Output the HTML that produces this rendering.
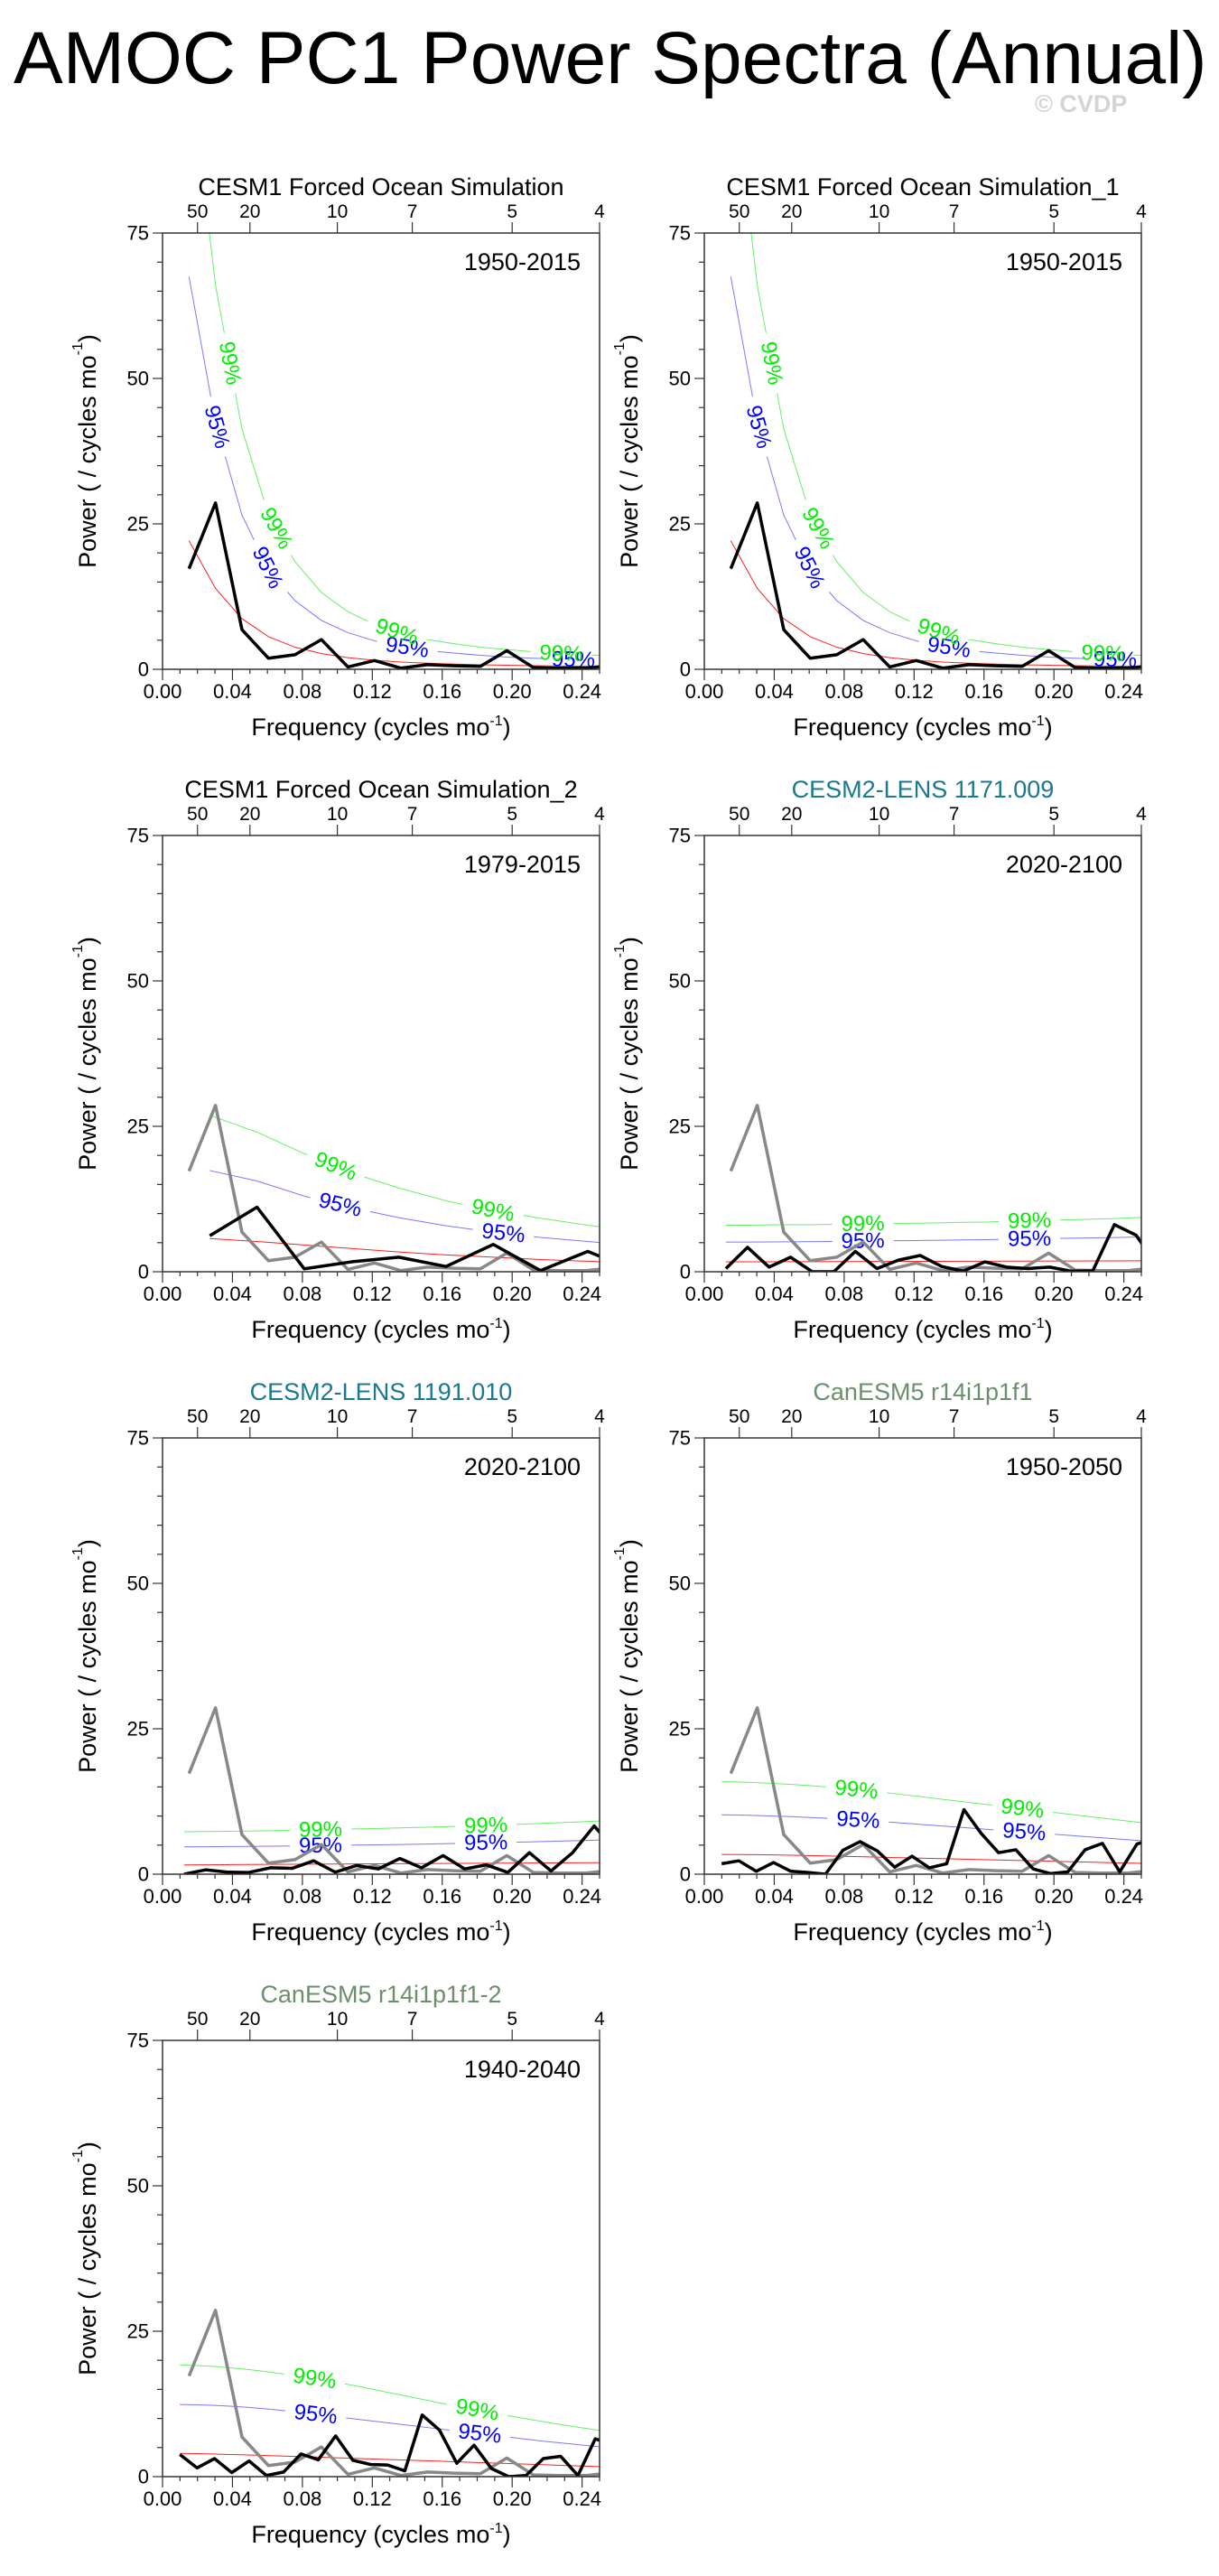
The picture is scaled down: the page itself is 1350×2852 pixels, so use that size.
<!DOCTYPE html>
<html><head><meta charset="utf-8">
<style>
html,body{margin:0;padding:0;background:#fff;}
svg{display:block;font-family:"Liberation Sans",Arial,sans-serif;}
</style></head>
<body>
<svg id="chart" xmlns="http://www.w3.org/2000/svg" width="1350" height="2852" viewBox="0 0 1350 2852">
<rect x="0" y="0" width="1350" height="2852" fill="#fff"/>
<text x="15" y="92" font-size="82" fill="#000">AMOC PC1 Power Spectra (Annual)</text>
<text x="1146" y="124" font-size="27" font-weight="bold" fill="#d4d4d4">© CVDP</text>
<defs id="defs"></defs>
</svg>
<script>
// ---- data ----
const refBlack = [17.3,28.6,6.8,1.9,2.5,5.1,0.4,1.5,0.2,0.8,0.6,0.5,3.2,0.3,0.2,0.2,0.7];
const refRed   = [22.1,13.9,8.7,5.6,3.8,2.7,2.0,1.55,1.25,1.05,0.9,0.78,0.7,0.62,0.56,0.52,0.48];
const refBlue  = [67.5,42.4,26.5,17.1,11.8,8.4,6.3,4.9,3.9,3.2,2.8,2.4,2.1,1.9,1.7,1.6,1.5];
const refGreen = [105,66,41.3,26.6,18.5,13.2,9.9,7.7,6.2,5.1,4.4,3.8,3.4,3.0,2.7,2.5,2.3];

const p3Black = [6.2,11.1,0.5,1.7,2.5,0.9,4.7,0.2,3.5,0.2];
const p3Red   = [5.7,5.2,4.6,4.0,3.4,2.9,2.5,2.1,1.8,1.5];
const p3Green = [26.9,24.0,20.3,17.0,14.4,12.2,10.5,9.2,8.0,7.0];
const p3Blue  = [17.4,15.6,13.0,11.0,9.3,7.9,6.8,5.9,5.2,4.5];

const p4Black = [0.55,4.2,0.8,2.5,0,0,3.5,0.55,2.0,2.8,0.9,0.1,1.7,0.8,0.55,0.8,0.1,0.15,8.1,6.3,1.0];
const p4Red   = [1.70,1.70,1.71,1.72,1.73,1.74,1.75,1.76,1.77,1.78,1.79,1.80,1.81,1.82,1.83,1.84,1.85,1.86,1.87,1.88,1.89];
const p4Green = [8.0,8.0,8.05,8.1,8.1,8.15,8.2,8.25,8.3,8.35,8.4,8.5,8.55,8.65,8.75,8.85,8.95,9.05,9.15,9.3,9.45];
const p4Blue  = [5.1,5.1,5.12,5.15,5.18,5.2,5.25,5.3,5.33,5.37,5.42,5.47,5.52,5.58,5.64,5.7,5.76,5.82,5.88,5.95,6.02];

const p5Black = [0,0.75,0.35,0.3,1.1,1.0,2.3,0.35,1.5,0.9,2.7,1.1,3.2,0.9,1.6,0.3,3.7,0.55,3.7,8.3,4.0];
const p5Red   = [1.6,1.62,1.64,1.66,1.68,1.7,1.72,1.74,1.76,1.78,1.8,1.82,1.84,1.86,1.88,1.9,1.92,1.94,1.96,1.98,2.0];
const p5Green = [7.3,7.33,7.37,7.42,7.48,7.55,7.62,7.7,7.78,7.86,7.95,8.05,8.15,8.25,8.35,8.5,8.65,8.8,8.95,9.1,9.3];
const p5Blue  = [4.7,4.72,4.75,4.78,4.82,4.86,4.9,4.95,5.0,5.05,5.1,5.17,5.24,5.31,5.39,5.47,5.56,5.65,5.75,5.85,5.95];

const p6Black = [1.8,2.3,0.5,2.0,0.5,0.3,0,4.1,5.6,4.0,1.2,3.1,1.1,1.8,11.1,7.0,3.7,4.2,0.9,0.1,0.4,4.2,5.3,0.4,5.2,6.0];
const p6Red   = [3.4,3.38,3.35,3.31,3.26,3.2,3.14,3.07,3.0,2.93,2.86,2.79,2.72,2.65,2.58,2.51,2.44,2.37,2.3,2.23,2.16,2.09,2.02,1.95,1.88,1.82];
const p6Green = [15.9,15.85,15.75,15.6,15.45,15.25,15.0,14.75,14.45,14.15,13.85,13.5,13.15,12.8,12.45,12.1,11.75,11.4,11.05,10.7,10.35,10.0,9.65,9.3,8.95,8.6];
const p6Blue  = [10.2,10.17,10.1,10.0,9.9,9.77,9.62,9.45,9.27,9.08,8.88,8.67,8.45,8.23,8.01,7.79,7.57,7.35,7.13,6.91,6.69,6.47,6.25,6.03,5.81,5.6];

const p7Black = [3.8,1.5,3.1,0.7,2.7,0.2,0.8,3.9,2.9,7.0,2.8,2.1,2.0,1.0,10.6,8.0,2.3,5.4,1.4,0,0.2,3.1,3.5,0.2,6.5,5.5];
const p7Red   = [4.0,3.95,3.88,3.8,3.72,3.63,3.54,3.45,3.35,3.25,3.15,3.05,2.95,2.85,2.75,2.65,2.55,2.45,2.35,2.25,2.15,2.05,1.95,1.85,1.75,1.65];
const p7Green = [19.2,19.1,18.95,18.7,18.4,18.05,17.65,17.2,16.75,16.25,15.7,15.1,14.5,13.9,13.3,12.7,12.1,11.55,11.0,10.45,9.95,9.45,8.95,8.5,8.05,7.65];
const p7Blue  = [12.4,12.35,12.25,12.1,11.9,11.65,11.35,11.0,10.65,10.3,9.95,9.6,9.25,8.9,8.55,8.2,7.85,7.5,7.15,6.8,6.45,6.1,5.8,5.5,5.2,4.95];

const recordYears = [66,66,37,81,81,101,101];
const panelTitles = ["CESM1 Forced Ocean Simulation","CESM1 Forced Ocean Simulation_1","CESM1 Forced Ocean Simulation_2","CESM2-LENS 1171.009","CESM2-LENS 1191.010","CanESM5 r14i1p1f1","CanESM5 r14i1p1f1-2"];
const periodLabels = ["1950-2015","1950-2015","1979-2015","2020-2100","2020-2100","1950-2050","1940-2040"];
const yTicks = [0,25,50,75];
const xTicks = [0,0.04,0.08,0.12,0.16,0.20,0.24];
const xTickLabels = ["0.00","0.04","0.08","0.12","0.16","0.20","0.24"];
const topPeriods = [50,20,10,7,5,4];
const label99Freq = [[0.0385,0.065,0.134,0.228],[0.0385,0.065,0.134,0.228],[0.099,0.189],[0.0907,0.186],[0.0904,0.185],[0.087,0.182],[0.087,0.18]];
const label95Freq = [[0.031,0.06,0.14,0.235],[0.031,0.06,0.14,0.235],[0.1016,0.195],[0.0907,0.186],[0.0904,0.185],[0.088,0.183],[0.0876,0.1815]];

const panels = [
 {black:refBlack,red:refRed,green:refGreen,blue:refBlue,gray:null,titleColor:"#000"},
 {black:refBlack,red:refRed,green:refGreen,blue:refBlue,gray:null,titleColor:"#000"},
 {black:p3Black,red:p3Red,green:p3Green,blue:p3Blue,gray:refBlack,titleColor:"#000"},
 {black:p4Black,red:p4Red,green:p4Green,blue:p4Blue,gray:refBlack,titleColor:"#1a7890"},
 {black:p5Black,red:p5Red,green:p5Green,blue:p5Blue,gray:refBlack,titleColor:"#1a7890"},
 {black:p6Black,red:p6Red,green:p6Green,blue:p6Blue,gray:refBlack,titleColor:"#6b8f6b"},
 {black:p7Black,red:p7Red,green:p7Green,blue:p7Blue,gray:refBlack,titleColor:"#6b8f6b"}
];
const colX = [180,780], rowY = [258,925,1592,2259], W = 484, H = 483;
const XMAX = 0.25, YMAX = 75;

const NS = "http://www.w3.org/2000/svg";
const svg = document.getElementById("chart");
const defs = document.getElementById("defs");
function mk(tag, attrs, parent){
  const e = document.createElementNS(NS, tag);
  for (const k in attrs) e.setAttribute(k, attrs[k]);
  (parent||svg).appendChild(e);
  return e;
}

panels.forEach((p, i) => {
  const x0 = colX[i%2], y0 = rowY[Math.floor(i/2)];
  const N = recordYears[i];
  const xs = f => x0 + f / XMAX * W;
  const ys = v => y0 + H - v / YMAX * H;
  const g = mk("g", {});
  
  

  const cp = mk("clipPath", {id:"clip"+i}, defs);
  mk("rect", {x:x0, y:y0, width:W, height:H}, cp);

  const pts = (arr, n) => arr.map((v,k) => [xs((k+1)/n), ys(v)]);
  const pathD = P => P.map((q,j)=>(j?"L":"M")+q[0].toFixed(2)+","+q[1].toFixed(2)).join("");

  function curveAngle(P, f){
    const x = xs(f);
    for (let j=0;j<P.length-1;j++){
      if (x>=P[j][0] && x<=P[j+1][0]){
        const t=(x-P[j][0])/(P[j+1][0]-P[j][0]);
        const y=P[j][1]+t*(P[j+1][1]-P[j][1]);
        const ang=Math.atan2(P[j+1][1]-P[j][1],P[j+1][0]-P[j][0])*180/Math.PI;
        return [x,y,ang];
      }
    }
    return [x, P[P.length-1][1], 0];
  }

  function confCurve(arr, color, textColor, label, freqs, name){
    const P = pts(arr, N);
    const mask = mk("mask", {id:"mask"+name+i, maskUnits:"userSpaceOnUse", x:0, y:0, width:1350, height:2852}, defs);
    mk("rect", {x:0,y:0,width:1350,height:2852,fill:"#fff"}, mask);
    const lg = mk("g", {"clip-path":"url(#clip"+i+")"}, g);
    const path = mk("path", {d:pathD(P), fill:"none", stroke:color, "stroke-width":1, mask:"url(#mask"+name+i+")"}, lg);
    
    
    freqs.forEach(f => {
      const [x,y,a] = curveAngle(P, f);
      if (y < y0) return;
      mk("rect", {x:x-34, y:y-14, width:68, height:28, fill:"#000", transform:`rotate(${a.toFixed(1)} ${x.toFixed(1)} ${y.toFixed(1)})`}, mask);
      const t = mk("text", {x:x, y:y, "font-size":24, fill:textColor, "text-anchor":"middle", "dominant-baseline":"central", transform:`rotate(${a.toFixed(1)} ${x.toFixed(1)} ${y.toFixed(1)})`}, g);
      
      
      t.textContent = label;
    });
  }

  const dg = mk("g", {"clip-path":"url(#clip"+i+")"}, g);
  const red = mk("path", {d:pathD(pts(p.red, N)), fill:"none", stroke:"#ff2020", "stroke-width":1}, dg);
  
  
  confCurve(p.blue, "#7878ff", "#0000ff", "95%", label95Freq[i], "blue-95");
  confCurve(p.green, "#66f066", "#00ee00", "99%", label99Freq[i], "green-99");
  const dg2 = mk("g", {"clip-path":"url(#clip"+i+")"}, g);
  if (p.gray){
    const gr = mk("path", {d:pathD(pts(p.gray, 66)), fill:"none", stroke:"#888", "stroke-width":3.5, "stroke-linejoin":"round"}, dg2);
    
    
  }
  const bl = mk("path", {d:pathD(pts(p.black, N)), fill:"none", stroke:"#000", "stroke-width":3.5, "stroke-linejoin":"round"}, dg2);
  
  

  const fr = mk("rect", {x:x0, y:y0, width:W, height:H, fill:"none", stroke:"#333", "stroke-width":1.5}, g);
  
  

  for (let v=0; v<=75; v+=5){
    const major = v%25===0;
    mk("line", {x1:x0-(major?11:6), x2:x0, y1:ys(v), y2:ys(v), stroke:"#333", "stroke-width":1.2}, g);
  }
  yTicks.forEach(v => {
    const t = mk("text", {x:x0-15, y:ys(v), "font-size":22, "text-anchor":"end", "dominant-baseline":"central", fill:"#000"}, g);
    
    
    t.textContent = v;
  });
  for (let k=0; k<=25; k++){
    const f = k/100, major = k%4===0;
    mk("line", {x1:xs(f), x2:xs(f), y1:y0+H, y2:y0+H+(major?12:5), stroke:"#333", "stroke-width":1.2}, g);
  }
  xTicks.forEach((f,j) => {
    const t = mk("text", {x:xs(f), y:y0+H+32, "font-size":22, "text-anchor":"middle", fill:"#000"}, g);
    
    
    t.textContent = xTickLabels[j];
  });
  topPeriods.forEach(pd => {
    const f = 1/pd;
    mk("line", {x1:xs(f), x2:xs(f), y1:y0, y2:y0-12, stroke:"#333", "stroke-width":1.2}, g);
    const t = mk("text", {x:xs(f), y:y0-17, "font-size":21, "text-anchor":"middle", fill:"#000"}, g);
    
    
    t.textContent = pd;
  });
  const tt = mk("text", {x:x0+W/2, y:y0-42, "font-size":27, "text-anchor":"middle", fill:p.titleColor}, g);
  
  
  tt.textContent = panelTitles[i];
  const dt = mk("text", {x:x0+W-21, y:y0+41, "font-size":27, "text-anchor":"end", fill:"#000"}, g);
  
  
  dt.textContent = periodLabels[i];
  const xl = mk("text", {x:x0+W/2, y:y0+H+73, "font-size":27, "text-anchor":"middle", fill:"#000"}, g);
  
  
  xl.innerHTML = 'Frequency (cycles mo<tspan font-size="16" dy="-11">-1</tspan><tspan dy="11">)</tspan>';
  const cy = y0+H/2, cx = x0-83;
  const yl = mk("text", {x:cx, y:cy, "font-size":27, "text-anchor":"middle", "dominant-baseline":"central", fill:"#000", transform:`rotate(-90 ${cx} ${cy})`}, g);
  
  
  yl.innerHTML = 'Power ( / cycles mo<tspan font-size="16" dy="-11">-1</tspan><tspan dy="11">)</tspan>';
});
</script>
</body></html>
